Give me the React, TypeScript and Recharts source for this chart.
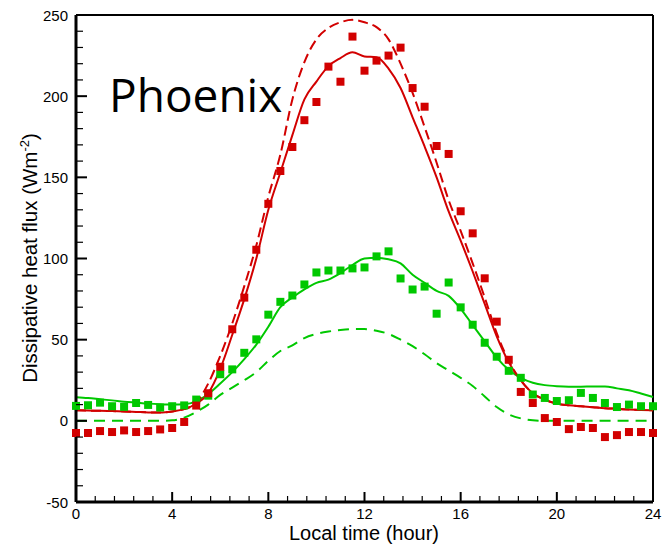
import { ComposedChart, Line, Scatter, XAxis, YAxis, ReferenceLine } from "recharts";

const hours = [
  0, 0.5, 1, 1.5, 2, 2.5, 3, 3.5, 4, 4.5, 5, 5.5, 6, 6.5, 7, 7.5, 8, 8.5, 9, 9.5, 10, 10.5, 11, 11.5, 12,
  12.5, 13, 13.5, 14, 14.5, 15, 15.5, 16, 16.5, 17, 17.5, 18, 18.5, 19, 19.5, 20, 20.5, 21, 21.5, 22,
  22.5, 23, 23.5, 24,
];

// measured (squares)
const redObs = [
  -7.5, -7.5, -6.3, -6.9, -5.9, -6.9, -6.3, -5.3, -4.4, -0.7, 9.4, 17, 33.3, 56.4, 75.9, 105.4, 133.7,
  153.9, 168.7, 185.2, 196.4, 218.2, 208.9, 236.7, 215.7, 221.9, 225, 229.9, 205, 193.5, 169.3, 164.4,
  129.1, 115.5, 87.8, 61.1, 37.6, 17.8, 11, 1.7, -0.7, -5.1, -3.8, -4.4, -10, -8.8, -6.9, -6.9, -7.5,
];
const greenObs = [
  9.2, 9.6, 11.2, 9.0, 8.6, 11.0, 9.8, 8.2, 9.0, 9.5, 13.1, 15.5, 28.7, 31.7, 41.9, 50.2, 65.4, 73.3,
  77.2, 84, 91.4, 92.6, 92.6, 93.9, 94.5, 101.3, 104.4, 87.7, 80.9, 82.7, 66, 85.2, 69.9, 59.2, 48.1,
  39.5, 30.8, 26.5, 16.2, 14.1, 12.2, 12.7, 17.2, 14.1, 11, 8.5, 10, 9, 9,
];

// model curves
const redSolid = [
  6.5, 6.3, 6.2, 6.0, 5.8, 5.5, 5.2, 5.1, 5.8, 7.2, 10.5, 17, 32, 53, 75, 100, 130, 153, 176, 198, 209,
  218.5, 223.5, 227, 224.5, 224, 217, 205, 187, 169, 150, 129, 111, 92, 72, 52, 36, 25, 17, 13, 10.6,
  9.6, 9, 8.4, 7.8, 7.4, 7, 6.7, 6.5,
];
const redDashed = [
  6.5, 6.3, 6.2, 6.0, 5.8, 5.5, 5.2, 5.1, 5.8, 7.2, 11, 23, 40, 60, 83, 108, 138, 164, 198, 221, 235,
  242, 245.5, 247, 245.5, 242.5, 235, 220, 202, 181, 159, 136, 117, 97, 76, 54, 37, 25, 17, 13, 10.6,
  9.6, 9, 8.4, 7.8, 7.4, 7, 6.7, 6.5,
];
const greenSolid = [
  14.5, 14, 13.3, 12.6, 11.8, 11.2, 10.6, 10.2, 10, 10.2, 12, 16.5, 23, 30, 38, 47, 58, 70, 76, 81, 85,
  87, 91, 96, 100, 100.5, 99.5, 97, 90, 85, 80, 77, 69, 59, 49, 39, 31.5, 26.5, 23.5, 22, 21.3, 21, 21,
  21.2, 21.2, 20, 18.8, 16.8, 14.7,
];
const greenDashed = [
  0, 0, 0, 0, 0, 0, 0, 0, 0.3, 2, 5.5, 10, 16, 20.5, 25, 30, 37, 43, 46.5, 51, 53.5, 55, 56, 56.5, 56.5,
  55.5, 53.5, 50, 46, 41, 35.5, 31, 26.5, 21.5, 15, 8.5, 4, 1.5, 0.3, 0, 0, 0, 0, 0, 0, 0, 0, 0, 0,
];

const xMajor = [0, 4, 8, 12, 16, 20, 24];
const yMajor = [-50, 0, 50, 100, 150, 200, 250];

const xTicks: number[] = [];
for (let i = 0; i <= 30; i++) xTicks.push(i * 0.8);
const yTicks: number[] = [];
for (let v = -50; v <= 250; v += 10) yTicks.push(v);

const data = hours.map((t, i) => ({
  t,
  redObs: redObs[i],
  greenObs: greenObs[i],
  redSolid: redSolid[i],
  redDashed: redDashed[i],
  greenSolid: greenSolid[i],
  greenDashed: greenDashed[i],
}));

const RED = "#d20000";
const GREEN = "#00c800";
const FONT = "'Liberation Sans', Arial, sans-serif";

const XTick = (props: any) => {
  const { x, y, index } = props;
  const major = index % 5 === 0;
  return (
    <g>
      <line x1={x} x2={x} y1={y} y2={y - (major ? 10 : 6)} stroke="#000" strokeWidth={major ? 2 : 1.2} />
      {major && (
        <text x={x} y={y + 17} textAnchor="middle" fontSize={15} fontFamily={FONT} fill="#000">
          {xMajor[index / 5]}
        </text>
      )}
    </g>
  );
};

const YTick = (props: any) => {
  const { x, y, index } = props;
  const major = index % 5 === 0;
  return (
    <g>
      <line x1={x} x2={x + (major ? 11 : 7)} y1={y} y2={y} stroke="#000" strokeWidth={major ? 2 : 1.2} />
      {major && (
        <text x={x - 8} y={y + 5.5} textAnchor="end" fontSize={15} fontFamily={FONT} fill="#000">
          {yMajor[index / 5]}
        </text>
      )}
    </g>
  );
};

const YLabel = () => (
  <text
    x={37}
    y={258}
    transform="rotate(-90 37 258)"
    textAnchor="middle"
    fontSize={20.5}
    fontFamily={FONT}
    fill="#000"
  >
    Dissipative heat flux (Wm
    <tspan fontSize={13} dy={-8}>-2</tspan>
    <tspan dy={8}>)</tspan>
  </text>
);

const XLabel = () => (
  <text x={364} y={540} textAnchor="middle" fontSize={20} fontFamily={FONT} fill="#000">
    Local time (hour)
  </text>
);

export default function App() {
  return (
    <div style={{ position: "absolute", left: 0, top: 0, width: 666, height: 547, background: "#fff" }}>
      <ComposedChart
        width={666}
        height={547}
        data={data}
        margin={{ top: 15, right: 13, bottom: 15, left: 0 }}
      >
        <XAxis
          dataKey="t"
          type="number"
          domain={[0, 24]}
          ticks={xTicks}
          interval={0}
          tickSize={0}
          tickMargin={0}
          tickLine={false}
          tick={<XTick />}
          height={30}
          axisLine={{ stroke: "#000", strokeWidth: 3 }}
          label={{ content: <XLabel /> }}
        />
        <YAxis
          type="number"
          domain={[-50, 250]}
          ticks={yTicks}
          interval={0}
          tickSize={0}
          tickMargin={0}
          tickLine={false}
          tick={<YTick />}
          width={76}
          axisLine={{ stroke: "#000", strokeWidth: 3 }}
          label={{ content: <YLabel /> }}
        />
        <ReferenceLine y={250} stroke="#000" strokeWidth={2} />
        <ReferenceLine x={24} stroke="#000" strokeWidth={2} />
        <Line dataKey="greenDashed" type="monotone" stroke={GREEN} strokeWidth={2} strokeDasharray="11 7" dot={false} isAnimationActive={false} />
        <Line dataKey="greenSolid" type="monotone" stroke={GREEN} strokeWidth={2} dot={false} isAnimationActive={false} />
        <Line dataKey="redDashed" type="monotone" stroke={RED} strokeWidth={2} strokeDasharray="10 5" dot={false} isAnimationActive={false} />
        <Line dataKey="redSolid" type="monotone" stroke={RED} strokeWidth={2} dot={false} isAnimationActive={false} />
        <Scatter dataKey="greenObs" fill={GREEN} shape="square" isAnimationActive={false} />
        <Scatter dataKey="redObs" fill={RED} shape="square" isAnimationActive={false} />
      </ComposedChart>
      <div
        style={{
          position: "absolute",
          left: 109,
          top: 62,
          fontFamily: "'Open Sans', sans-serif",
          fontSize: 46,
          lineHeight: "64px",
          color: "#000",
        }}
      >
        Phoenix
      </div>
    </div>
  );
}
